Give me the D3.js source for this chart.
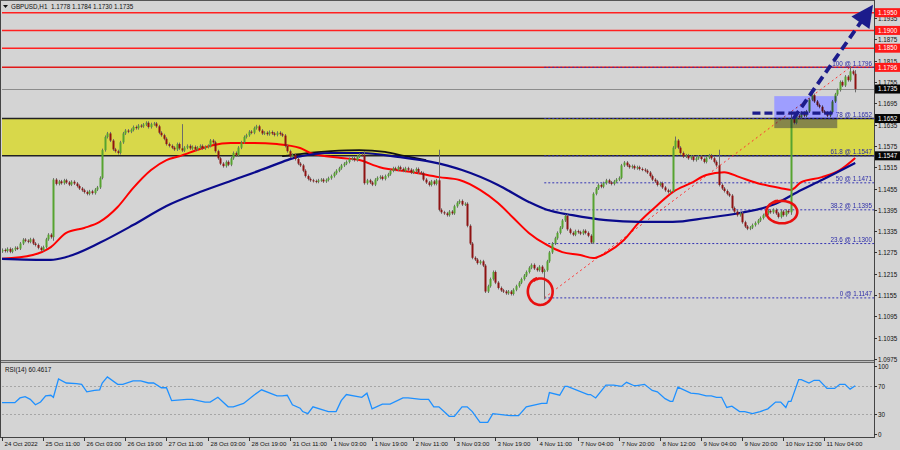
<!DOCTYPE html>
<html><head><meta charset="utf-8">
<script src="https://cdn.jsdelivr.net/npm/d3@7"></script>
<style>body{margin:0;background:#d4d4d4}svg{display:block}text{font-family:"Liberation Sans",Arial,sans-serif}</style>
</head><body><svg id="c" width="900" height="450"></svg>
<script>
// ---------------- DATA ----------------
const headerText = "GBPUSD,H1  1.1778 1.1784 1.1730 1.1735";
const rsiHeader = "RSI(14) 60.4617";
const firstOpen = 1.1278;
const closes = [
1.1282,1.1279,1.1285,1.1277,1.1283,1.1288,1.1286,1.1300,1.1311,1.1308,
1.1305,1.1312,1.1300,1.1296,1.1288,1.1282,1.1290,1.1312,1.1325,1.1318,
1.1480,1.1468,1.1475,1.1470,1.1478,1.1472,1.1466,1.1474,1.1469,1.1462,
1.1455,1.1450,1.1445,1.1440,1.1447,1.1442,1.1452,1.1458,1.1485,1.1563,
1.1600,1.1610,1.1590,1.1565,1.1560,1.1555,1.1585,1.1610,1.1618,1.1615,
1.1620,1.1628,1.1625,1.1632,1.1630,1.1635,1.1640,1.1628,1.1636,1.1638,
1.1630,1.1612,1.1605,1.1595,1.1580,1.1575,1.1570,1.1565,1.1580,1.1568,
1.1562,1.1570,1.1575,1.1568,1.1572,1.1565,1.1570,1.1575,1.1568,1.1572,
1.1575,1.1590,1.1585,1.1560,1.1540,1.1525,1.1518,1.1530,1.1522,1.1540,
1.1555,1.1548,1.1570,1.1585,1.1600,1.1605,1.1615,1.1612,1.1625,1.1630,
1.1618,1.1610,1.1612,1.1608,1.1614,1.1610,1.1606,1.1612,1.1608,1.1604,
1.1575,1.1560,1.1545,1.1550,1.1538,1.1525,1.1520,1.1505,1.1490,1.1482,
1.1478,1.1476,1.1474,1.1478,1.1480,1.1475,1.1479,1.1484,1.1490,1.1498,
1.1505,1.1512,1.1520,1.1525,1.1530,1.1538,1.1540,1.1535,1.1545,1.1550,
1.1548,1.1470,1.1478,1.1472,1.1466,1.1480,1.1485,1.1488,1.1482,1.1490,
1.1495,1.1505,1.1512,1.1508,1.1515,1.1510,1.1505,1.1512,1.1508,1.1500,
1.1505,1.1510,1.1500,1.1498,1.1480,1.1472,1.1465,1.1475,1.1468,1.1478,
1.1395,1.1388,1.1385,1.1380,1.1390,1.1385,1.1405,1.1415,1.1420,1.1410,
1.1412,1.1350,1.1300,1.1260,1.1255,1.1245,1.1250,1.1238,1.1165,1.1180,
1.1200,1.1220,1.1190,1.1175,1.1168,1.1165,1.1160,1.1165,1.1158,1.1170,
1.1180,1.1190,1.1200,1.1210,1.1220,1.1232,1.1240,1.1230,1.1225,1.1235,
1.1220,1.1225,1.1250,1.1275,1.1300,1.1315,1.1330,1.1345,1.1365,1.1378,
1.1340,1.1330,1.1325,1.1335,1.1332,1.1328,1.1336,1.1330,1.1322,1.1303,
1.1440,1.1455,1.1465,1.1460,1.1470,1.1478,1.1472,1.1468,1.1475,1.1480,
1.1485,1.1520,1.1528,1.1520,1.1515,1.1518,1.1512,1.1515,1.1510,1.1508,
1.1505,1.1500,1.1490,1.1480,1.1475,1.1465,1.1470,1.1458,1.1450,1.1445,
1.1448,1.1570,1.1590,1.1570,1.1555,1.1545,1.1548,1.1540,1.1545,1.1535,
1.1540,1.1545,1.1538,1.1530,1.1542,1.1548,1.1540,1.1530,1.1520,1.1465,
1.1455,1.1448,1.1440,1.1435,1.1400,1.1390,1.1380,1.1385,1.1360,1.1348,
1.1342,1.1345,1.1352,1.1358,1.1365,1.1372,1.1380,1.1385,1.1392,1.1388,
1.1395,1.1385,1.1375,1.1390,1.1380,1.1392,1.1388,1.1650,1.1640,1.1660,
1.1655,1.1668,1.1660,1.1672,1.1705,1.1718,1.1700,1.1690,1.1685,1.1672,
1.1668,1.1660,1.1670,1.1700,1.1720,1.1732,1.1755,1.1745,1.1770,1.1760,1.1785,1.1778,1.1735
];
// notable wick extremes: [bar, high, low]
const wickOverrides = [
[20,null,1.1312],[70,1.1632,null],[141,1.1556,null],[170,1.1560,null],
[211,null,1.1147],[262,1.1597,null],[279,1.1560,null],[307,1.1668,1.1385],
[330,1.1796,null],[332,1.1784,1.1730]
];
const timeLabels = ["24 Oct 2022","25 Oct 11:00","26 Oct 03:00","26 Oct 19:00","27 Oct 11:00",
"28 Oct 03:00","28 Oct 19:00","31 Oct 11:00","1 Nov 03:00","1 Nov 19:00","2 Nov 11:00",
"3 Nov 03:00","3 Nov 19:00","4 Nov 11:00","7 Nov 04:00","7 Nov 20:00","8 Nov 12:00",
"9 Nov 04:00","9 Nov 20:00","10 Nov 12:00","11 Nov 04:00"];
const barsPerLabel = 16;
const priceTicks = [1.0975,1.1035,1.1095,1.1155,1.1215,1.1275,1.1335,1.1395,1.1455,1.1515,1.1575,1.1635,1.1695,1.1755,1.1815,1.1875,1.1935];
const redLevels = [1.1950,1.1900,1.1850,1.1796];
const zoneLow = 1.1547, zoneHigh = 1.1652;
const currentPrice = 1.1735;
const fibLevels = ["100","78","61.8","50","38.2","23.6","0"];
const fibPrices = [1.1796,1.1652,1.1547,1.1471,1.1395,1.1300,1.1147];
const fibStartBar = 211, fibEndBar = 330;
const maRedBars = [0,12,19,25,32,38,45,51,58,64,69,77,82,89,98,107,116,120,132,139,147,160,170,178,186,193,199,205,212,218,225,230,235,242,248,255,261,268,274,281,287,294,303,307,311,319,326,332];
const maRedVals = [1.1257,1.1268,1.1290,1.1330,1.1344,1.1361,1.1403,1.1456,1.1507,1.1535,1.1546,1.1566,1.1577,1.1583,1.1583,1.1580,1.1569,1.1555,1.1541,1.1535,1.1515,1.1501,1.1487,1.1479,1.1451,1.1414,1.1372,1.1330,1.1296,1.1276,1.1268,1.1259,1.1273,1.1310,1.1361,1.1408,1.1445,1.1470,1.1493,1.1501,1.1487,1.1470,1.1456,1.1451,1.1473,1.1487,1.1507,1.1541];
const maBlueBars = [0,19,25,38,51,64,77,90,103,111,115,128,140,154,167,179,193,205,212,222,235,248,261,274,287,300,311,319,332];
const maBlueVals = [1.1257,1.1254,1.1262,1.1302,1.1352,1.1406,1.1445,1.1479,1.1513,1.1535,1.1544,1.1555,1.1555,1.1544,1.1530,1.1507,1.1465,1.1417,1.1395,1.1380,1.1366,1.1361,1.1361,1.1372,1.1386,1.1409,1.1451,1.1479,1.1527];
const maBlackBars = [109,116,128,139,149,157,165];
const maBlackVals = [1.1546,1.1552,1.1560,1.1563,1.1558,1.1546,1.1535];
const rsiBars = [0,5,7,9,11,13,15,17,19,20,22,25,29,31,33,36,38,39,41,45,47,51,54,57,59,62,64,66,72,74,79,81,84,88,90,94,98,101,107,109,111,113,116,117,119,121,127,130,132,134,140,142,144,148,151,156,158,163,166,168,170,174,176,179,181,183,186,189,191,198,201,204,210,212,213,217,219,220,228,229,231,235,238,241,243,246,247,250,253,255,258,260,261,263,268,271,274,276,278,280,282,284,287,289,292,295,298,301,303,305,306,307,310,311,314,316,318,321,324,326,328,330,332];
const rsiVals = [46,46,53,55,51,43,47,56,57,54,81,75,74,73,62,64,65,75,84,73,73,78,78,75,75,68,68,49,51,51,47,47,54,40,40,45,57,65,56,56,57,43,38,33,30,40,33,33,49,58,54,60,37,44,44,53,53,51,51,40,40,26,26,40,40,33,17,17,30,27,27,40,45,45,61,57,70,70,58,58,53,72,72,70,76,71,71,73,64,62,52,48,48,69,60,59,56,56,54,54,39,41,33,33,30,33,37,47,47,39,48,48,80,80,75,79,79,67,67,73,73,66,71,60.46];
const rsiLevels = [100,70,30,0];
const arrowFrom = [308,1.1652], arrowTo = [335,1.1932];
const dashLine = {from:292,to:324,price:1.1667};
const boxAnn = {from:300.5,to:325,top:1.1715,bottom:1.1625};
const circles = [{bar:209.5,price:1.1165},{bar:303.5,price:1.1389}];

// ---------------- LAYOUT ----------------
const W=900,H=450, L=2, R=874, mainTop=2, mainBot=360, rsiTop=364, rsiBot=437;
const svg=d3.select("#c");
const x=d3.scaleLinear().domain([0,320]).range([2,824.4]);
const y=d3.scaleLinear().domain([1.0975,1.1935]).range([359,18]);
const yr=d3.scaleLinear().domain([0,100]).range([434,366]);
const FS=6.3, FT=6.1;

svg.append("rect").attr("width",W).attr("height",H).attr("fill","#d4d4d4");
const defs=svg.append("defs");
defs.append("clipPath").attr("id","mclip").append("rect").attr("x",L).attr("y",mainTop).attr("width",R-L).attr("height",mainBot-mainTop);
defs.append("clipPath").attr("id","rclip").append("rect").attr("x",L).attr("y",rsiTop).attr("width",R-L).attr("height",rsiBot-rsiTop);
defs.append("marker").attr("id","ah").attr("markerUnits","userSpaceOnUse").attr("viewBox","0 0 10 10")
 .attr("refX",2).attr("refY",5).attr("markerWidth",24).attr("markerHeight",22).attr("orient","auto")
 .append("path").attr("d","M0,0L10,5L0,10z").attr("fill","#1c1c8c");

const m=svg.append("g").attr("clip-path","url(#mclip)");
// zone
m.append("rect").attr("x",L).attr("width",R-L).attr("y",y(zoneHigh)).attr("height",y(zoneLow)-y(zoneHigh)).attr("fill","#d8d84a");
[zoneHigh,zoneLow].forEach(p=>m.append("line").attr("x1",L).attr("x2",R).attr("y1",y(p)).attr("y2",y(p)).attr("stroke","#222").attr("stroke-width",1.5));
// red levels
redLevels.forEach((p,i)=>m.append("line").attr("x1",L).attr("x2",R).attr("y1",y(p)).attr("y2",y(p)).attr("stroke",i===3?"#e01818":"#ff2020").attr("stroke-width",1.5));
// current price
m.append("line").attr("x1",L).attr("x2",R).attr("y1",Math.round(y(currentPrice))+0.5).attr("y2",Math.round(y(currentPrice))+0.5).attr("stroke","#8c8c8c").attr("stroke-width",1);
// fib lines
fibPrices.forEach((p,i)=>{
  m.append("line").attr("x1",x(fibStartBar)).attr("x2",R).attr("y1",y(p)).attr("y2",y(p)).attr("stroke","#3434b4").attr("stroke-width",1).attr("stroke-dasharray","2,2");
  m.append("text").attr("x",R-2).attr("y",y(p)-1.5).attr("text-anchor","end").attr("font-size",FS).attr("fill","#2c2ca8").text(fibLevels[i]+" @ "+p.toFixed(4));
});
m.append("line").attr("x1",x(fibStartBar)).attr("y1",y(fibPrices[6])).attr("x2",x(fibEndBar)).attr("y2",y(fibPrices[0])).attr("stroke","#ff3030").attr("stroke-width",1).attr("stroke-dasharray","2,3");
// MAs
const line=d3.line().curve(d3.curveMonotoneX);
const maLine=(bars,vals,col,w)=>m.append("path").attr("d",line(bars.map((b,i)=>[x(b),y(vals[i])]))).attr("fill","none").attr("stroke",col).attr("stroke-width",w);
maLine(maBlackBars,maBlackVals,"#111",1.8);
maLine(maRedBars,maRedVals,"#ff0000",2);
maLine(maBlueBars,maBlueVals,"#0a0a8c",2.2);
// candles
const opens=closes.map((c,i)=>i===0?firstOpen:closes[i-1]);
const highs=closes.map((c,i)=>Math.max(c,opens[i]));
const lows=closes.map((c,i)=>Math.min(c,opens[i]));
wickOverrides.forEach(([i,h,l])=>{if(h!=null)highs[i]=h;if(l!=null)lows[i]=l;});
const cg=m.append("g");
closes.forEach((c,i)=>{
  const cx=Math.round(x(i))+0.5;
  cg.append("line").attr("x1",cx).attr("x2",cx).attr("y1",y(highs[i])-1.5).attr("y2",y(lows[i])+1.5).attr("stroke","#6c6c6c").attr("stroke-width",1);
  const bull=c>=opens[i];
  const t=y(Math.max(c,opens[i])), b=y(Math.min(c,opens[i]));
  cg.append("rect").attr("x",cx-1).attr("width",2).attr("y",t).attr("height",Math.max(1,b-t)).attr("fill",bull?"#56a330":"#8e1212");
});
// annotation box
m.append("rect").attr("x",x(boxAnn.from)).attr("width",x(boxAnn.to)-x(boxAnn.from)).attr("y",y(boxAnn.top)).attr("height",y(boxAnn.bottom)-y(boxAnn.top)).attr("fill","#9e9eff").style("mix-blend-mode","multiply");
// dashed line and arrow
m.append("line").attr("x1",x(dashLine.from)).attr("x2",x(dashLine.to)).attr("y1",y(dashLine.price)).attr("y2",y(dashLine.price)).attr("stroke","#1c1c8c").attr("stroke-width",3.2).attr("stroke-dasharray","8,4");
svg.append("line").attr("x1",x(arrowFrom[0])).attr("y1",y(arrowFrom[1])).attr("x2",x(arrowTo[0])).attr("y2",y(arrowTo[1])).attr("stroke","#1c1c8c").attr("stroke-width",3.8).attr("stroke-dasharray","9,5").attr("marker-end","url(#ah)");
// circles
circles.forEach((c,k)=>{
  const cx=x(c.bar), cy=y(c.price), rx=k===0?12:15, ry=k===0?13:11;
  const pts=d3.range(0,1.08,0.02).map(t=>{const a=-2.2+t*2*Math.PI; return [cx+rx*Math.cos(a)*(1+0.06*t), cy+ry*Math.sin(a)*(1+0.06*t)];});
  m.append("path").attr("d",d3.line().curve(d3.curveBasis)(pts)).attr("fill","none").attr("stroke","#e81010").attr("stroke-width",2.6);
});

// header
svg.append("path").attr("d","M3,5L8,5L5.5,8z").attr("fill","#111");
svg.append("text").attr("x",11).attr("y",9).attr("font-size",FS).attr("fill","#111").style("white-space","pre").text(headerText);

// RSI panel
const r=svg.append("g").attr("clip-path","url(#rclip)");
[70,30].forEach(v=>r.append("line").attr("x1",L).attr("x2",R).attr("y1",Math.round(yr(v))+0.5).attr("y2",Math.round(yr(v))+0.5).attr("stroke","#a6a6a6").attr("stroke-dasharray","2,2"));
r.append("path").attr("d",d3.line()(rsiBars.map((b,i)=>[x(b),yr(rsiVals[i])]))).attr("fill","none").attr("stroke","#1e90ff").attr("stroke-width",1.3);
svg.append("text").attr("x",5).attr("y",372).attr("font-size",FS).attr("fill","#111").text(rsiHeader);

// frames
svg.append("rect").attr("x",0.5).attr("y",0.5).attr("width",R).attr("height",mainBot).attr("fill","none").attr("stroke","#555");
svg.append("rect").attr("x",0.5).attr("y",360.5).attr("width",R).attr("height",2).attr("fill","#bcbcbc").attr("stroke","#666");
svg.append("line").attr("x1",R+0.5).attr("x2",R+0.5).attr("y1",0).attr("y2",rsiBot).attr("stroke","#444");
svg.append("line").attr("x1",0).attr("x2",R+1).attr("y1",rsiBot+0.5).attr("y2",rsiBot+0.5).attr("stroke","#444");
svg.append("line").attr("x1",0.5).attr("x2",0.5).attr("y1",0).attr("y2",rsiBot).attr("stroke","#444");

// price axis
const ax=svg.append("g");
priceTicks.forEach(p=>{
  const yy=Math.round(y(p))+0.5;
  ax.append("line").attr("x1",R).attr("x2",R+3).attr("y1",yy).attr("y2",yy).attr("stroke","#333");
  ax.append("text").attr("x",R+4).attr("y",yy+2.3).attr("font-size",FS).attr("fill","#111").text(p.toFixed(4));
});
const tag=(p,bg)=>{const yy=y(p);ax.append("rect").attr("x",R+1).attr("y",yy-4.5).attr("width",25).attr("height",9).attr("fill",bg);
  ax.append("text").attr("x",R+4).attr("y",yy+2.3).attr("font-size",FS).attr("fill","#fff").text(p.toFixed(4));};
redLevels.forEach(p=>tag(p,"#ff1a1a"));
[currentPrice,zoneHigh,zoneLow].forEach(p=>tag(p,"#050505"));
rsiLevels.forEach(v=>{
  const yy=Math.round(yr(v))+0.5;
  ax.append("line").attr("x1",R).attr("x2",R+3).attr("y1",yy).attr("y2",yy).attr("stroke","#333");
  ax.append("text").attr("x",R+4).attr("y",yy+2.3).attr("font-size",FS).attr("fill","#111").text(v);
});
// time axis
timeLabels.forEach((t,k)=>{
  const xx=Math.round(x(k*barsPerLabel))+0.5;
  ax.append("line").attr("x1",xx).attr("x2",xx).attr("y1",rsiBot).attr("y2",rsiBot+4).attr("stroke","#333");
  ax.append("text").attr("x",xx+2).attr("y",rsiBot+9).attr("font-size",FT).attr("fill","#111").text(t);
});
</script></body></html>
